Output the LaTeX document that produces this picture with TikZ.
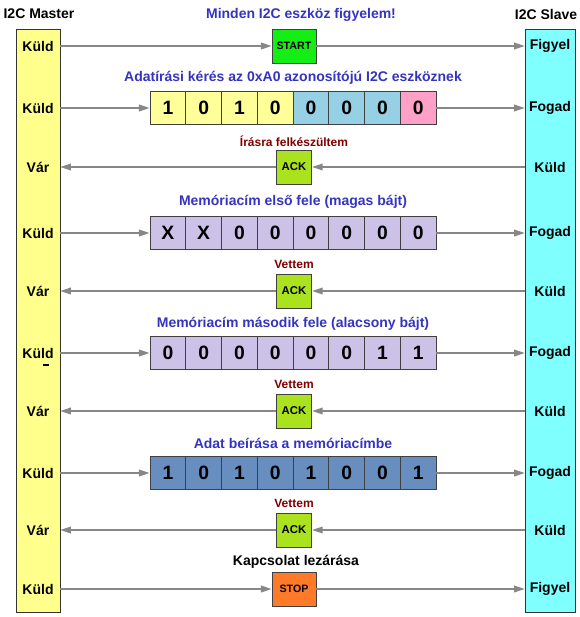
\documentclass[tikz,border=0pt]{standalone}
\usepackage{fontspec}
\setmainfont{Liberation Sans}
\usepackage{xcolor}
\usetikzlibrary{arrows.meta,positioning,calc}

\definecolor{mbar}{RGB}{255,255,140}
\definecolor{sbar}{RGB}{128,255,255}
\definecolor{cyel}{RGB}{255,255,153}
\definecolor{cblu}{RGB}{150,208,228}
\definecolor{cpnk}{RGB}{255,160,200}
\definecolor{cpur}{RGB}{204,194,232}
\definecolor{cstl}{RGB}{104,142,192}
\definecolor{cack}{RGB}{170,226,30}
\definecolor{cstart}{RGB}{20,238,20}
\definecolor{cstop}{RGB}{255,122,40}
\definecolor{tblue}{RGB}{52,52,190}
\definecolor{tred}{RGB}{128,0,0}
\definecolor{lgray}{RGB}{135,135,135}

\begin{document}
\begin{tikzpicture}[
    x=0.75pt, y=-0.75pt,
    bar/.style={rectangle, draw=black!80, line width=0.6pt, minimum width=#1, inner sep=0pt, anchor=north west},
    side/.style={font=\bfseries\fontsize{10.5}{12}\selectfont, inner sep=0pt, minimum height=12pt, minimum width=#1},
    cell/.style={rectangle, draw=black!75, line width=0.6pt, minimum width=26.8pt, minimum height=25pt, inner sep=0pt, font=\bfseries\fontsize{14.5}{16}\selectfont},
    sig/.style={rectangle, draw=black!75, line width=0.6pt, minimum width=33pt, minimum height=25.5pt, inner sep=0pt, font=\bfseries\fontsize{8}{9}\selectfont},
    ack/.style={rectangle, draw=black!75, line width=0.6pt, fill=cack, minimum width=26.5pt, minimum height=25.5pt, inner sep=0pt, font=\bfseries\fontsize{8.5}{10}\selectfont},
    title/.style={font=\bfseries\fontsize{10.5}{12}\selectfont, text=tblue, inner sep=0pt},
    reply/.style={font=\bfseries\fontsize{9}{10}\selectfont, text=tred, inner sep=0pt},
    arrow/.style={-{Triangle[length=8pt,width=5pt]}, line width=1.2pt, draw=lgray}
]
    \useasboundingbox (0,0) rectangle (580,617);

    % the two devices
    \node [bar=33pt, fill=mbar, minimum height=437pt] (master) at (16,29) {};
    \node [bar=37.5pt, fill=sbar, minimum height=437pt] (slave) at (525,29) {};
    \node [font=\bfseries\fontsize{10.5}{12}\selectfont, inner sep=0pt] (mtitle) at (39,14) {I2C Master};
    \node [font=\bfseries\fontsize{10.5}{12}\selectfont, inner sep=0pt] (stitle) at (546,14) {I2C Slave};

    % master side
    \node [side=33pt] (m1) at (38,46) {Küld};
    \node [side=33pt] (m2) at (38,108) {Küld};
    \node [side=33pt] (m3) at (38,167) {Vár};
    \node [side=33pt] (m4) at (38,233) {Küld};
    \node [side=33pt] (m5) at (38,291) {Vár};
    \node [side=33pt] (m6) at (38,353) {Küld};
    \node [side=33pt] (m7) at (38,411) {Vár};
    \node [side=33pt] (m8) at (38,473) {Küld};
    \node [side=33pt] (m9) at (38,530) {Vár};
    \node [side=33pt] (m10) at (38,589) {Küld};
    \node [fill=black, minimum width=4.5pt, minimum height=2.2pt, inner sep=0pt] (mdash) at (46,365) {};

    % slave side
    \node [side=37.5pt] (s1) at (550,46) {Figyel};
    \node [side=37.5pt] (s2) at (550,108) {Fogad};
    \node [side=37.5pt] (s3) at (550,167) {Küld};
    \node [side=37.5pt] (s4) at (550,233) {Fogad};
    \node [side=37.5pt] (s5) at (550,291) {Küld};
    \node [side=37.5pt] (s6) at (550,353) {Fogad};
    \node [side=37.5pt] (s7) at (550,411) {Küld};
    \node [side=37.5pt] (s8) at (550,473) {Fogad};
    \node [side=37.5pt] (s9) at (550,530) {Küld};
    \node [side=37.5pt] (s10) at (550,589) {Figyel};

    % start
    \node [title] (t1) at (301,15) {Minden I2C eszköz figyelem!};
    \node [sig, fill=cstart] (start) at (294,46) {START};
    \draw [arrow] (m1.east) -- (start);
    \draw [arrow] (start) -- (s1.west);

    % address byte
    \node [title] (t2) at (293,78) {Adatírási kérés az 0xA0 azonosítójú I2C eszköznek};
    \foreach \v/\c [count=\i] in {1/cyel,0/cyel,1/cyel,0/cyel,0/cblu,0/cblu,0/cblu,0/cpnk}
        \node [cell, fill=\c] (a\i) at ({150+35.75*(\i-0.5)},108) {\v};
    \draw [arrow] (m2.east) -- (a1);
    \draw [arrow] (a8) -- (s2.west);

    \node [reply] (t3) at (294,141) {Írásra felkészültem};
    \node [ack] (ack1) at (294,167) {ACK};
    \draw [arrow] (s3.west) -- (ack1);
    \draw [arrow] (ack1) -- (m3.east);

    % high address byte
    \node [title] (t4) at (293,202) {Memóriacím első fele (magas bájt)};
    \foreach \v [count=\i] in {X,X,0,0,0,0,0,0}
        \node [cell, fill=cpur] (h\i) at ({150+35.75*(\i-0.5)},233) {\v};
    \draw [arrow] (m4.east) -- (h1);
    \draw [arrow] (h8) -- (s4.west);

    \node [reply] (t5) at (294,264) {Vettem};
    \node [ack] (ack2) at (294,291) {ACK};
    \draw [arrow] (s5.west) -- (ack2);
    \draw [arrow] (ack2) -- (m5.east);

    % low address byte
    \node [title] (t6) at (293,324) {Memóriacím második fele (alacsony bájt)};
    \foreach \v [count=\i] in {0,0,0,0,0,0,1,1}
        \node [cell, fill=cpur] (l\i) at ({150+35.75*(\i-0.5)},353) {\v};
    \draw [arrow] (m6.east) -- (l1);
    \draw [arrow] (l8) -- (s6.west);

    \node [reply] (t7) at (294,384) {Vettem};
    \node [ack] (ack3) at (294,411) {ACK};
    \draw [arrow] (s7.west) -- (ack3);
    \draw [arrow] (ack3) -- (m7.east);

    % data byte
    \node [title] (t8) at (293,443) {Adat beírása a memóriacímbe};
    \foreach \v [count=\i] in {1,0,1,0,1,0,0,1}
        \node [cell, fill=cstl] (d\i) at ({150+35.75*(\i-0.5)},473) {\v};
    \draw [arrow] (m8.east) -- (d1);
    \draw [arrow] (d8) -- (s8.west);

    \node [reply] (t9) at (294,503) {Vettem};
    \node [ack] (ack4) at (294,530) {ACK};
    \draw [arrow] (s9.west) -- (ack4);
    \draw [arrow] (ack4) -- (m9.east);

    % stop
    \node [title, text=black] (t10) at (296,562) {Kapcsolat lezárása};
    \node [sig, fill=cstop] (stop) at (294,589) {STOP};
    \draw [arrow] (m10.east) -- (stop);
    \draw [arrow] (stop) -- (s10.west);
\end{tikzpicture}
\end{document}
